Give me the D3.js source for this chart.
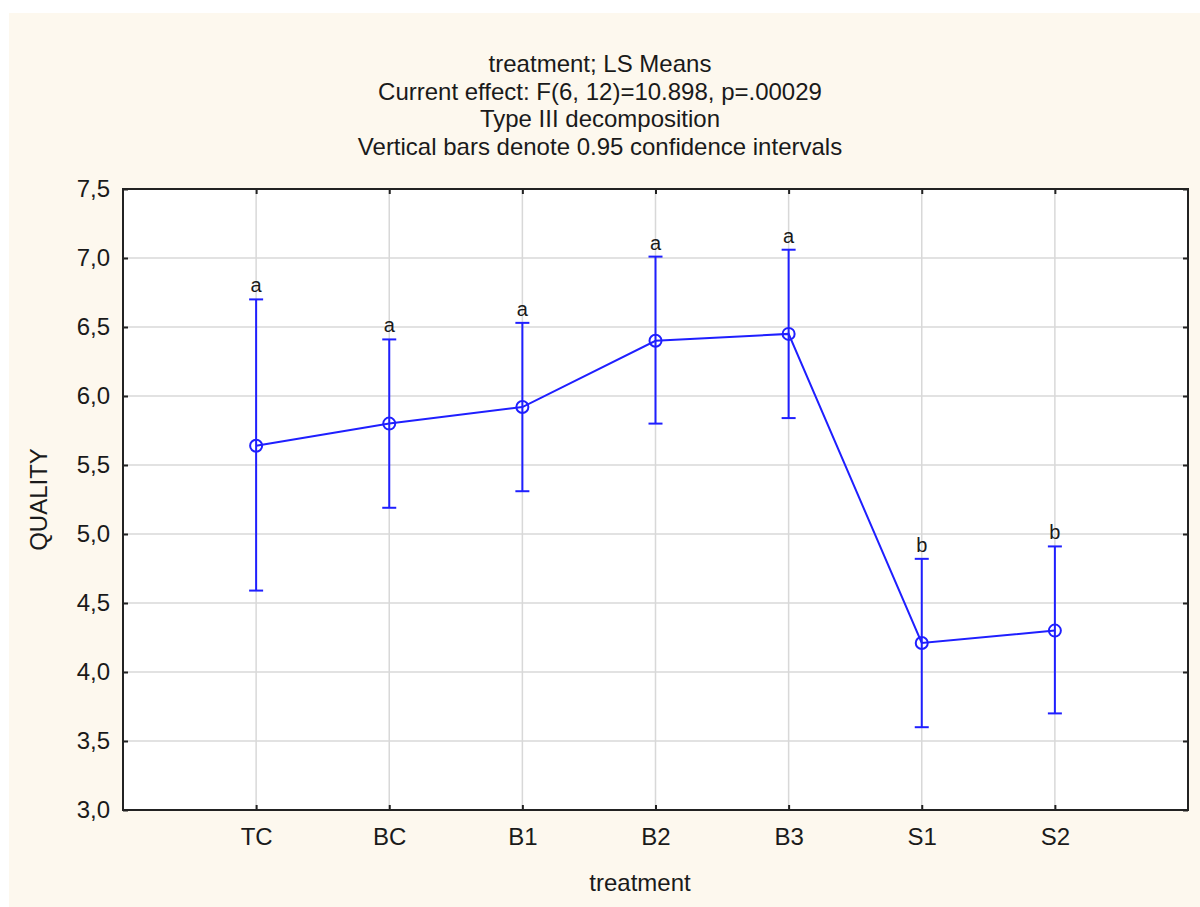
<!DOCTYPE html>
<html>
<head>
<meta charset="utf-8">
<script src="https://cdn.jsdelivr.net/npm/d3@7/dist/d3.min.js"></script>
<style>
  html, body { margin: 0; padding: 0; background: #ffffff; }
  svg { display: block; font-family: Arial, "Liberation Sans", sans-serif; }
</style>
</head>
<body>
<svg id="chart" width="1200" height="907"></svg>
<script>
// LS means of QUALITY by treatment, with 95% confidence limits
const treatments = ["TC", "BC", "B1", "B2", "B3", "S1", "S2"];
const means      = [5.64, 5.80, 5.92, 6.40, 6.45, 4.21, 4.30];
const lowerCI    = [4.59, 5.19, 5.31, 5.80, 5.84, 3.60, 3.70];
const upperCI    = [6.70, 6.41, 6.53, 7.01, 7.06, 4.82, 4.91];
const groups     = ["a", "a", "a", "a", "a", "b", "b"];
const yTicks     = [3.0, 3.5, 4.0, 4.5, 5.0, 5.5, 6.0, 6.5, 7.0, 7.5];
const titleLines = [
  "treatment; LS Means",
  "Current effect: F(6, 12)=10.898, p=.00029",
  "Type III decomposition",
  "Vertical bars denote 0.95 confidence intervals"
];

const svg = d3.select("#chart");
const W = 1200, H = 907;
const plot = { left: 123, top: 189, right: 1188, bottom: 810 };
const blue = "#1f1fff";
const ink = "#1a1a1a";
const fontSize = 24;

// page background panel
svg.append("rect").attr("x", 9).attr("y", 13).attr("width", W - 9).attr("height", H - 13)
  .attr("fill", "#fdf8ee");
svg.append("rect").attr("x", plot.left).attr("y", plot.top)
  .attr("width", plot.right - plot.left).attr("height", plot.bottom - plot.top)
  .attr("fill", "#ffffff");

const x = d3.scalePoint().domain(treatments).range([plot.left, plot.right]).padding(1);
const y = d3.scaleLinear().domain([3.0, 7.5]).range([plot.bottom, plot.top]);
const fmt = v => d3.format(".1f")(v).replace(".", ",");

// grid lines
const grid = svg.append("g").attr("stroke", "#d8d8d8").attr("stroke-width", 1.5);
grid.selectAll(".gy").data(yTicks.slice(1, -1)).join("line")
  .attr("x1", plot.left).attr("x2", plot.right)
  .attr("y1", d => y(d)).attr("y2", d => y(d));
grid.selectAll(".gx").data(treatments).join("line")
  .attr("x1", d => x(d)).attr("x2", d => x(d))
  .attr("y1", plot.top).attr("y2", plot.bottom);

// axes with inward ticks on all four sides
const tickLen = 5;
const axL = svg.append("g").attr("transform", `translate(${plot.left},0)`)
  .call(d3.axisLeft(y).tickValues(yTicks).tickFormat(fmt).tickSizeInner(-tickLen).tickSizeOuter(0).tickPadding(13));
const axR = svg.append("g").attr("transform", `translate(${plot.right},0)`)
  .call(d3.axisRight(y).tickValues(yTicks).tickFormat("").tickSizeInner(-tickLen).tickSizeOuter(0));
const axB = svg.append("g").attr("transform", `translate(0,${plot.bottom})`)
  .call(d3.axisBottom(x).tickSizeInner(-tickLen).tickSizeOuter(0).tickPadding(18));
const axT = svg.append("g").attr("transform", `translate(0,${plot.top})`)
  .call(d3.axisTop(x).tickFormat("").tickSizeInner(-tickLen).tickSizeOuter(0));
[axL, axR, axB, axT].forEach(a => {
  a.select(".domain").remove();
  a.selectAll(".tick line").attr("stroke", "#222").attr("stroke-width", 2);
  a.selectAll("text").attr("fill", ink).attr("font-size", fontSize)
    .attr("font-family", "Arial, 'Liberation Sans', sans-serif");
});

// frame
svg.append("rect").attr("x", plot.left).attr("y", plot.top)
  .attr("width", plot.right - plot.left).attr("height", plot.bottom - plot.top)
  .attr("fill", "none").attr("stroke", "#222").attr("stroke-width", 2);

// connecting line through the means
const line = d3.line().x((d, i) => x(treatments[i])).y(d => y(d));
svg.append("path").datum(means).attr("d", line)
  .attr("fill", "none").attr("stroke", blue).attr("stroke-width", 2);

// confidence interval bars
const ci = svg.append("g").attr("stroke", blue).attr("stroke-width", 2);
const capW = 7;
treatments.forEach((t, i) => {
  const cx = x(t);
  ci.append("line").attr("x1", cx).attr("x2", cx).attr("y1", y(lowerCI[i])).attr("y2", y(upperCI[i]));
  ci.append("line").attr("x1", cx - capW).attr("x2", cx + capW).attr("y1", y(lowerCI[i])).attr("y2", y(lowerCI[i]));
  ci.append("line").attr("x1", cx - capW).attr("x2", cx + capW).attr("y1", y(upperCI[i])).attr("y2", y(upperCI[i]));
});

// mean markers
svg.append("g").selectAll("circle").data(means).join("circle")
  .attr("cx", (d, i) => x(treatments[i])).attr("cy", d => y(d)).attr("r", 6)
  .attr("fill", "none").attr("stroke", blue).attr("stroke-width", 2);

// homogeneous group letters
svg.append("g").selectAll("text").data(groups).join("text")
  .attr("x", (d, i) => x(treatments[i])).attr("y", (d, i) => y(upperCI[i]) - 7)
  .attr("text-anchor", "middle").attr("font-size", 20).attr("fill", ink)
  .text(d => d);

// titles
svg.append("g").selectAll("text").data(titleLines).join("text")
  .attr("x", 600).attr("y", (d, i) => 72 + i * 27.5)
  .attr("text-anchor", "middle").attr("font-size", fontSize).attr("fill", ink)
  .text(d => d);

// axis titles
svg.append("text").attr("x", 640).attr("y", 891).attr("text-anchor", "middle")
  .attr("font-size", fontSize).attr("fill", ink).text("treatment");
svg.append("text").attr("transform", `translate(47,${(plot.top + plot.bottom) / 2}) rotate(-90)`)
  .attr("text-anchor", "middle").attr("font-size", fontSize).attr("fill", ink).text("QUALITY");
</script>
</body>
</html>
